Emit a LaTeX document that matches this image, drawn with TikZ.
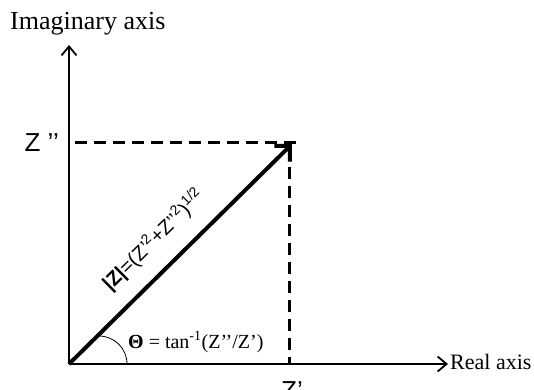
\documentclass[tikz,border=0pt]{standalone}
\usepackage{fontspec}
\setmainfont{Liberation Serif}
\newfontfamily\labelsans{Liberation Sans}
\usetikzlibrary{arrows.meta}

\tikzset{
  axis/.style={line width=1.8pt,-{Straight Barb[length=9pt,width=15pt,line width=1.8pt]}},
  vec/.style={line width=4pt,-{Straight Barb[length=11pt,width=22pt,line width=4pt]}},
  guide/.style={line width=3pt,dash pattern=on 12pt off 7pt},
  serlabel/.style={font=\fontsize{22}{26}\selectfont,inner sep=0pt},
  sanslabel/.style={font=\labelsans\fontsize{26}{30}\selectfont,inner sep=0pt}
}

\begin{document}
\begin{tikzpicture}[x=1pt,y=1pt]
  \useasboundingbox (0,0) rectangle (534,389);

  \coordinate (origin) at (69,25);
  \coordinate (imtip) at (69,344);
  \coordinate (retip) at (448,25);
  \coordinate (zpoint) at (292,245);
  \coordinate (imfoot) at (75,247);
  \coordinate (corner) at (298,247);
  \coordinate (retop) at (289,241);
  \coordinate (refoot) at (289,25);

  \node[serlabel,font=\fontsize{26}{30}\selectfont,anchor=base west] (imlabel) at (10,359) {Imaginary axis};
  \node[serlabel,anchor=base west] (relabel) at (450,20) {Real axis};
  \node[sanslabel,anchor=base east] (zim) at (59,238) {Z \char"2019\char"2019};
  \node[sanslabel,anchor=north] (zre) at (292,8) {Z\char"2019};
  \node[serlabel,font=\fontsize{20}{24}\selectfont,anchor=base west] (theta) at (128,41)
    {\textbf{Θ} = tan\textsuperscript{-1}(Z\char"2019\char"2019/Z\char"2019)};

  \draw[axis] (origin) -- (imtip);
  \draw[axis] (origin) -- (retip);
  \draw[guide] (imfoot) -- (corner);
  \draw[guide] (retop) -- (refoot);
  \draw[vec] (origin) -- node[sanslabel,font=\labelsans\fontsize{20}{24}\selectfont,sloped,above=16pt,pos=0.47]
    {\textbf{|Z|}=(Z\char"2019\textsuperscript{2}+Z\char"2019\char"2019\textsuperscript{2})\textsuperscript{1/2}} (zpoint);
  \draw[line width=0.8pt] (origin) ++(30,28) arc[start angle=90,end angle=0,radius=28];
\end{tikzpicture}
\end{document}
